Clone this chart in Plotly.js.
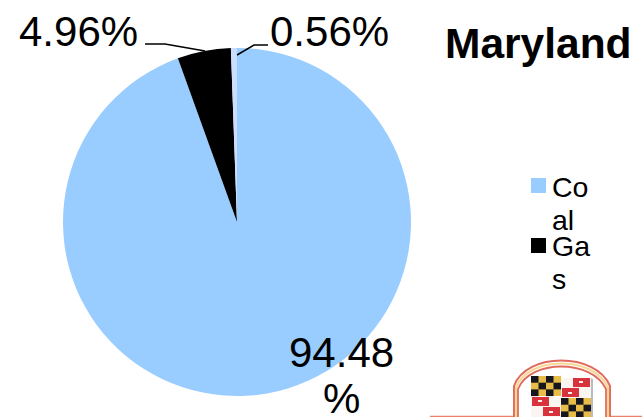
<!DOCTYPE html>
<html>
<head>
<meta charset="utf-8">
<script src="https://cdn.plot.ly/plotly-3.0.1.min.js"></script>
<style>html,body{margin:0;padding:0;background:#fff;overflow:hidden}</style>
</head>
<body>
<div id="chart" style="width:642px;height:417px"></div>
<script>
// Generation mix for Maryland
const categories = ['Coal', 'Gas', 'Other'];
const shares = [94.48, 4.96, 0.56];
const sliceColors = ['#99CCFF', '#000000', '#CCDDFF'];
const legendLines = [['Co', 'al'], ['Ga', 's']];
const chartTitle = 'Maryland';

const W = 642, H = 417;
const FONT = '"Liberation Sans", Arial, sans-serif';
const px = x => x / W;
const py = y => 1 - y / H;
const pct = v => v.toFixed(2) + '%';

function text(str, x, y, size, extra) {
  return Object.assign({
    text: str, x: px(x), y: py(y), xref: 'paper', yref: 'paper',
    xanchor: 'left', yanchor: 'middle', showarrow: false,
    font: {family: FONT, size: size, color: '#000'}
  }, extra || {});
}

const valueFirst = pct(shares[0]);
const annotations = [
  text(pct(shares[1]), 17, 32, 42),
  text(pct(shares[2]), 268, 32, 42),
  text(valueFirst.slice(0, -1), 341, 352, 42, {xanchor: 'center'}),
  text(valueFirst.slice(-1), 341, 398, 42, {xanchor: 'center'}),
  text('<b>' + chartTitle + '</b>', 443, 43, 42.5)
];

// Legend rows: the narrow text box wraps each name on to two lines
const legendRows = [187, 246];
legendLines.forEach((lines, i) => {
  annotations.push(text(lines[0], 550, legendRows[i], 28.5));
  annotations.push(text(lines[1], 550, legendRows[i] + 33, 28.5));
});

const box = (x0, y0, x1, y1, color) => ({
  type: 'rect', xref: 'paper', yref: 'paper',
  x0: px(x0), x1: px(x1), y0: py(y0), y1: py(y1),
  fillcolor: color, line: {width: 0}
});
const leader = pts => ({
  type: 'path', xref: 'paper', yref: 'paper',
  path: pts.map((p, i) => (i ? 'L' : 'M') + px(p[0]) + ' ' + py(p[1])).join(' '),
  line: {color: '#000', width: 1.5}
});

const shapes = [
  box(531, 178, 546, 193, sliceColors[0]),
  box(531, 238, 546, 253, sliceColors[1]),
  leader([[145, 44], [165, 44], [205, 51]]),
  leader([[268, 45], [254, 45], [237, 55]])
];

// Crest flag: gold and black checks in two quarters, red and white crosses in the others
function checks(x0, y0) {
  let out = `<rect x="${x0}" y="${y0}" width="30" height="20" fill="#E8BC48"/>`;
  for (let r = 0; r < 3; r++) {
    for (let c = 0; c < 4; c++) {
      if ((r + c) % 2 === 0) {
        out += `<rect x="${x0 + c * 7.5}" y="${y0 + r * 6.7}" width="7.5" height="6.7" fill="#15151A"/>`;
      }
    }
  }
  return out;
}
function crosses(x0, y0, flip) {
  const a = flip ? 1 : 12, b = flip ? 12 : 1;
  return `<rect x="${x0}" y="${y0}" width="30" height="20" fill="#FBF5F2"/>` +
    `<rect x="${x0 + a}" y="${y0}" width="17" height="9" fill="#D8303C"/>` +
    `<rect x="${x0 + b}" y="${y0 + 10}" width="17" height="9" fill="#D8303C"/>` +
    `<rect x="${x0 + a + 6}" y="${y0 + 3}" width="4" height="2" fill="#FBF5F2"/>` +
    `<rect x="${x0 + b + 6}" y="${y0 + 14}" width="4" height="2" fill="#FBF5F2"/>`;
}
const crest = `<svg xmlns="http://www.w3.org/2000/svg" width="212" height="77" viewBox="0 0 212 77">
<defs><filter id="s"><feGaussianBlur stdDeviation="0.6"/></filter></defs>
<g filter="url(#s)">
<path d="M0 76.500H84" fill="none" stroke="#EE8070" stroke-width="1.500"/>
<path d="M180 76.500H212" fill="none" stroke="#EE8070" stroke-width="1.500"/>
<path d="M84 77V46C96 12 166 12 180 46V77" fill="none" stroke="#E06A60" stroke-width="2"/>
<path d="M86 77V47.500C98 15.500 164 15.500 178 47.500V77" fill="none" stroke="#F8D890" stroke-width="2.200"/>
<path d="M88 77V49C100 19 162 19 176 49V77" fill="none" stroke="#E06A60" stroke-width="1.800"/>
<g transform="translate(101 36)">${checks(0, 0)}${crosses(30, 2, false)}${crosses(0, 21, true)}${checks(30, 22)}</g>
<path d="M161 38L163 39V77H161Z" fill="#BBB"/>
</g></svg>`;

const pieTrace = {
  type: 'pie',
  labels: categories,
  values: shares,
  marker: {colors: sliceColors, line: {width: 0}},
  sort: false,
  direction: 'clockwise',
  rotation: 0,
  textinfo: 'none',
  hoverinfo: 'label+percent',
  showlegend: false,
  domain: {x: [px(63), px(411)], y: [py(396), py(48)]}
};

Plotly.newPlot('chart', [pieTrace], {
  width: W, height: H,
  margin: {l: 0, r: 0, t: 0, b: 0},
  paper_bgcolor: '#fff',
  showlegend: false,
  annotations: annotations,
  shapes: shapes,
  images: [{
    source: 'data:image/svg+xml;charset=utf-8,' + encodeURIComponent(crest),
    xref: 'paper', yref: 'paper', x: px(430), y: py(340),
    sizex: 212 / W, sizey: 77 / H, sizing: 'stretch',
    xanchor: 'left', yanchor: 'top', layer: 'above'
  }]
}, {displayModeBar: false, staticPlot: true});
</script>
</body>
</html>
